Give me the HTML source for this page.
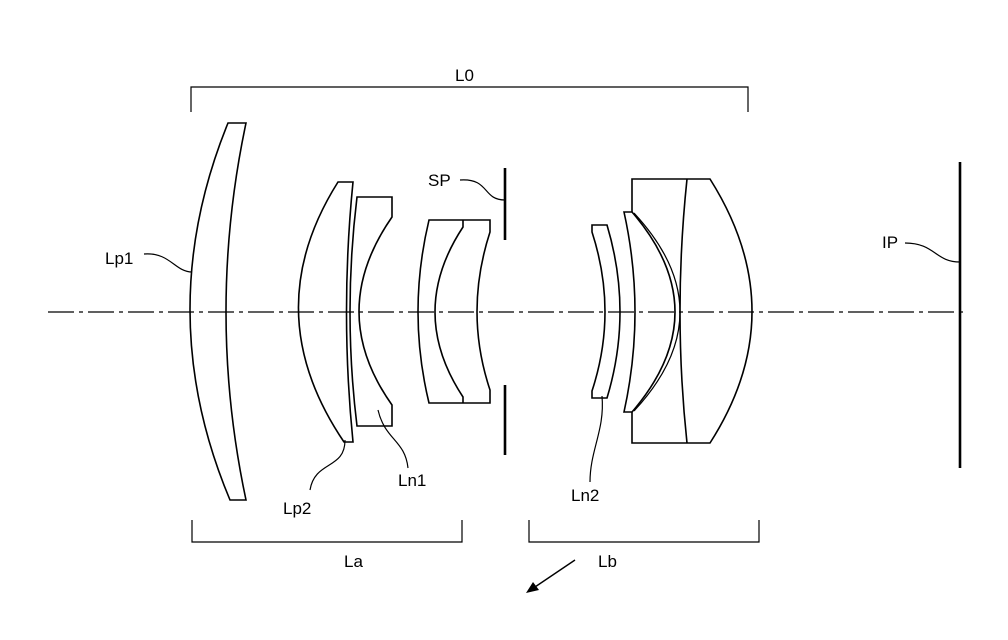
<!DOCTYPE html>
<html><head><meta charset="utf-8"><style>
html,body{margin:0;padding:0;background:#fff;}
svg{display:block;}
text{font-family:"Liberation Sans",Arial,sans-serif;font-size:17px;fill:#000;}
</style></head><body>
<svg width="1008" height="640" viewBox="0 0 1008 640" xmlns="http://www.w3.org/2000/svg">
<g fill="none" stroke="#000" stroke-width="1.6">
<line x1="48" y1="312" x2="968" y2="312" stroke-width="1.2" stroke-dasharray="26,5,4,5"/>
<path d="M228,123 L246,123 Q206,312 246,500 L230,500 Q151,312 228,123 Z"/>
<path d="M338,182 L353,182 Q340,312 353,442 L344,442 Q256,312 338,182 Z"/>
<path d="M357,197 L392,197 L392,217 Q326,312 392,405 L392,426 L357,426 Q343,312 357,197 Z"/>
<path d="M429,220 L490,220 L490,232 Q464,312 490,390 L490,403 L429,403 Q407,312 429,220 Z"/>
<path d="M463,220 L463,227 Q407,312 463,397 L463,403"/>
<line x1="505" y1="168" x2="505" y2="240" stroke-width="2.6"/>
<line x1="505" y1="385" x2="505" y2="455" stroke-width="2.6"/>
<path d="M592,225 L607,225 Q633,312 607,398 L592,398 L592,391 Q618,312 592,232 Z"/>
<path d="M632,212 L632,179 L710,179 Q794,312 710,443 L632,443 L632,412"/>
<path d="M687,179 Q673,312 687,443"/>
<path d="M624,212 L632,212 Q718,312 632,412 L624,412 Q646,312 624,212 Z"/>
<path d="M634,213 Q726,312 634,411" stroke-width="1.2"/>
<line x1="960" y1="162" x2="960" y2="468" stroke-width="2.6"/>
<path d="M191,112 L191,87 L748,87 L748,112" stroke-width="1.2"/>
<path d="M192,520 L192,542 L462,542 L462,520" stroke-width="1.2"/>
<path d="M529,520 L529,542 L759,542 L759,520" stroke-width="1.2"/>
<path d="M144,254 C170,252 175,272 192,272" stroke-width="1.2"/>
<path d="M460,180 C490,178 482,200 505,200" stroke-width="1.2"/>
<path d="M905,243 C935,243 935,262 960,262" stroke-width="1.2"/>
<path d="M310,490 C315,460 345,470 345,440" stroke-width="1.2"/>
<path d="M408,468 C405,440 385,440 378,410" stroke-width="1.2"/>
<path d="M590,482 C590,450 605,430 602,396" stroke-width="1.2"/>
<line x1="575" y1="560" x2="532" y2="589" stroke-width="1.4"/>
</g>
<polygon points="526,593 533,582 539,590" fill="#000"/>
<text x="455" y="81">L0</text>
<text x="105" y="264">Lp1</text>
<text x="428" y="186">SP</text>
<text x="882" y="248">IP</text>
<text x="283" y="514">Lp2</text>
<text x="398" y="486">Ln1</text>
<text x="571" y="501">Ln2</text>
<text x="344" y="567">La</text>
<text x="598" y="567">Lb</text>
</svg>
</body></html>
